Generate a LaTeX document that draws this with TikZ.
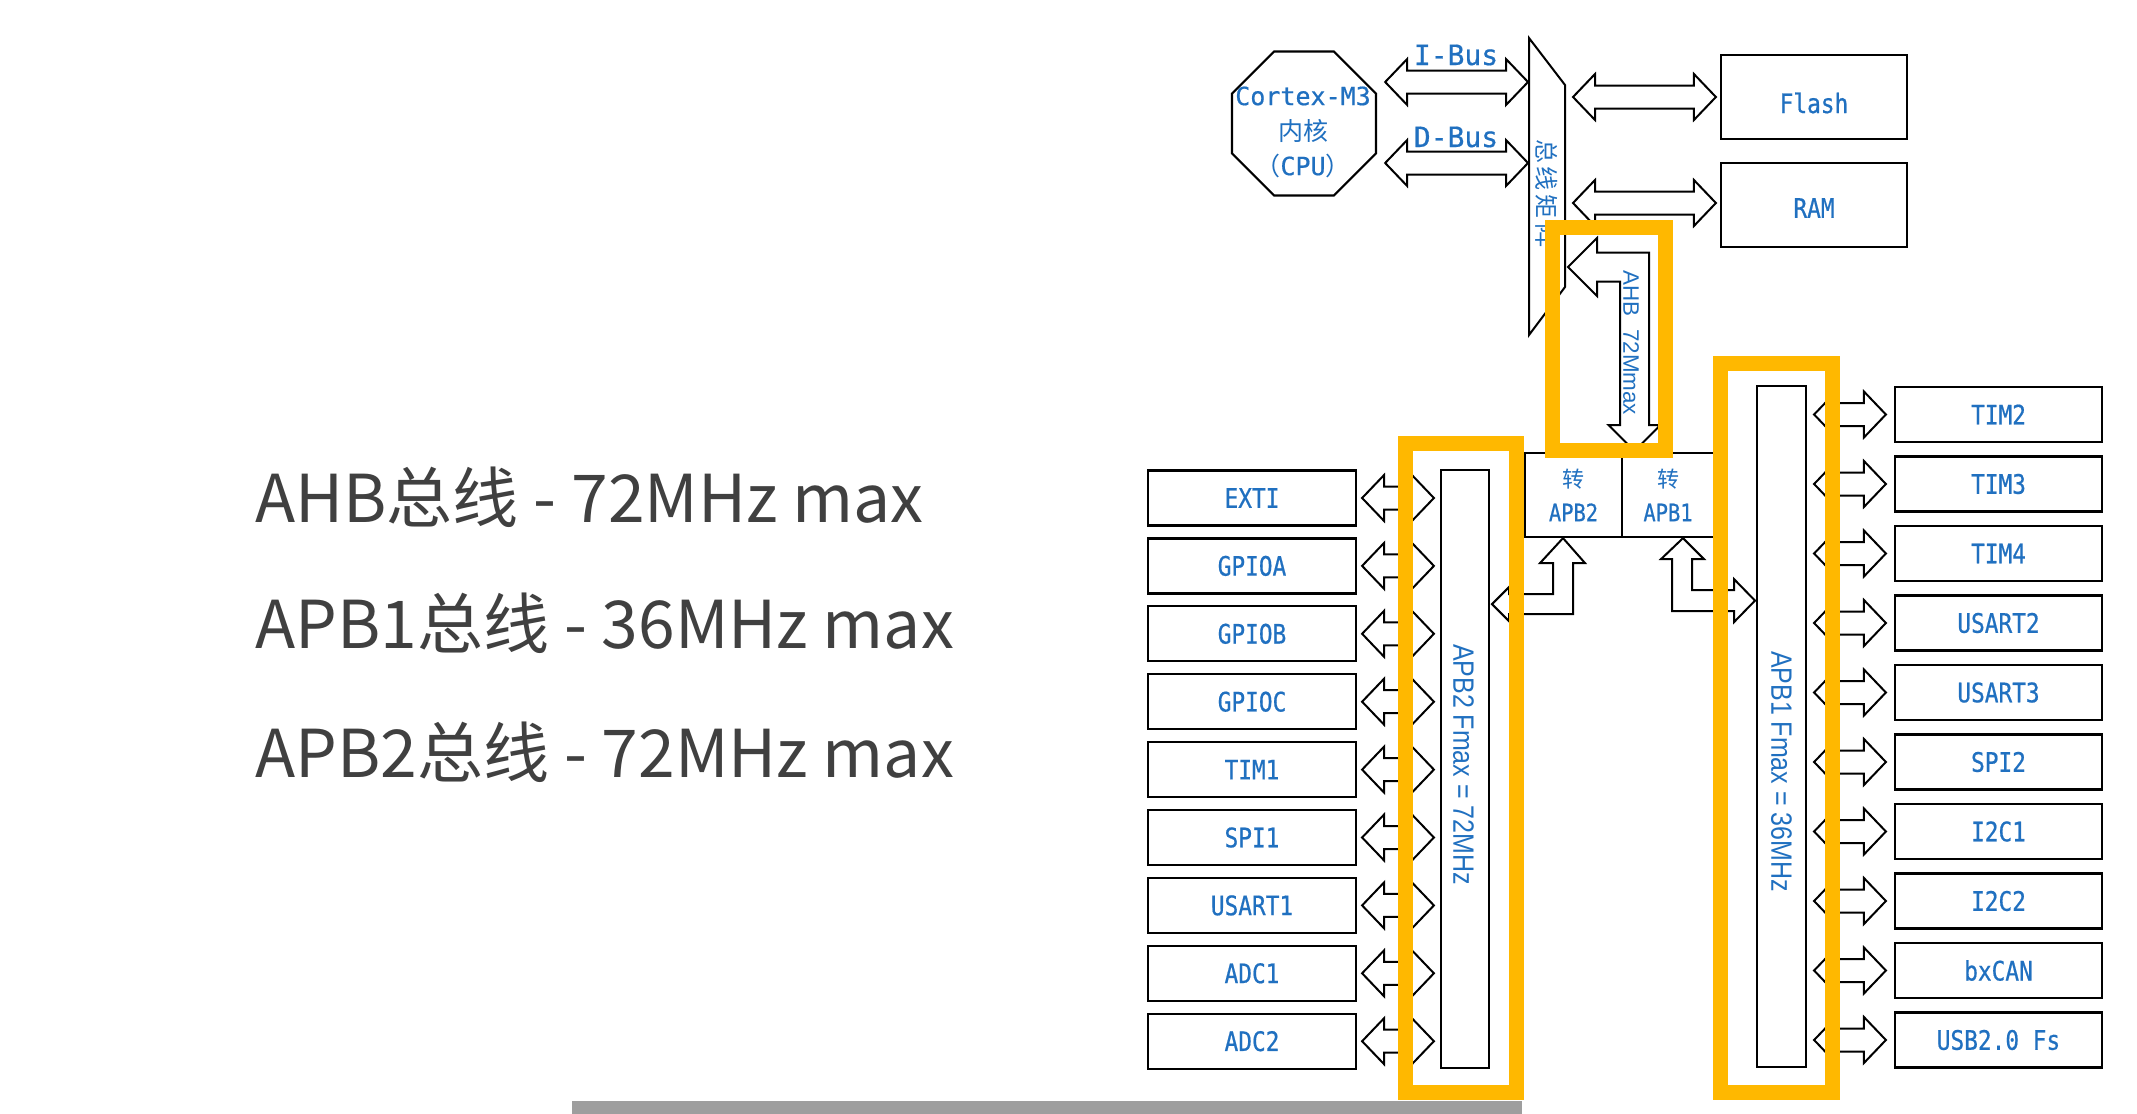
\documentclass[tikz,border=0pt]{standalone}
\usepackage{fontspec}
\usepackage{tikz}
\usetikzlibrary{shapes.geometric,calc}
\newfontfamily\cjk{Noto Sans CJK SC}
\newfontfamily\mono[FakeBold=0.6]{DejaVu Sans Mono}
\newfontfamily\lbl[FakeStretch=0.85,FakeBold=0.6]{DejaVu Sans Mono}
\newfontfamily\arial{Liberation Sans}
\newfontfamily\arialn[FakeStretch=0.85]{Liberation Sans}
\definecolor{busblue}{RGB}{32,112,192}
\definecolor{hilite}{RGB}{255,184,0}
\definecolor{slidegray}{RGB}{64,64,64}
\definecolor{scrollgray}{RGB}{158,158,158}
\tikzset{
  busline/.style={draw=black, line width=1pt, fill=white, line join=miter},
  perbox/.style={draw, line width=1.1pt, minimum width=104pt, minimum height=27.5pt,
    inner sep=0pt, text=busblue, font=\lbl\fontsize{13.4}{15}\selectfont},
  busbar/.style={draw, line width=1.1pt, inner sep=0pt},
  bluetext/.style={text=busblue, inner sep=0pt},
  hilitebox/.style={draw=hilite, line width=7.5pt},
  headline/.style={text=slidegray, anchor=base west, inner sep=0pt,
    font=\cjk\fontsize{33}{40}\selectfont}
}
\newcommand\hbus[2]{\draw[busline] let \p1=#1, \p2=#2 in
  (\x1,\y1) -- (\x1+11pt,\y1+11.5pt) -- (\x1+11pt,\y1+5.75pt) -- (\x2-11pt,\y1+5.75pt)
  -- (\x2-11pt,\y1+11.5pt) -- (\x2,\y1) -- (\x2-11pt,\y1-11.5pt) -- (\x2-11pt,\y1-5.75pt)
  -- (\x1+11pt,\y1-5.75pt) -- (\x1+11pt,\y1-11.5pt) -- cycle;}
\begin{document}
\begin{tikzpicture}[x=.5pt, y=-.5pt]
\fill[white] (0,0) rectangle (2137,1114);
\useasboundingbox (0,0) rectangle (2137,1114);

\node[headline] (ahbline) at (255,522) {AHB总线 - 72MHz max};
\node[headline] (apb1line) at (255,648) {APB1总线 - 36MHz max};
\node[headline] (apb2line) at (255,777) {APB2总线 - 72MHz max};

\node[regular polygon, regular polygon sides=8, draw, line width=1.1pt, minimum size=78pt,
  inner sep=0pt] (cpu) at (1304,123.5) {};
\node[bluetext, align=center, font=\mono\fontsize{12.5}{17.5}\selectfont] (cputxt)
  at (1303,132) {Cortex-M3\\{\cjk 内核}\\{\cjk （}CPU{\cjk ）}};

\draw[busline] (1529,38) -- (1565,85) -- (1565,287) -- (1529,335) -- cycle;
\coordinate (mtxL) at (1529,186);
\coordinate (mtxR) at (1565,186);
\node[bluetext, rotate=-90, font=\cjk\fontsize{12}{14}\selectfont] (mtxtxt) at (1547,193)
  {总\hspace{2pt}线\hspace{2pt}矩\hspace{2pt}阵};

\coordinate (ibus) at (1456,82);
\coordinate (dbus) at (1456,163);
\hbus{($(cpu.east |- ibus)+(8,0)$)}{($(mtxL |- ibus)+(-1,0)$)}
\hbus{($(cpu.east |- dbus)+(8,0)$)}{($(mtxL |- dbus)+(-1,0)$)}
\node[bluetext, font=\mono\fontsize{14}{16}\selectfont] (ibuslbl) at ($(ibus)+(0,-27)$) {I-Bus};
\node[bluetext, font=\mono\fontsize{14}{16}\selectfont] (dbuslbl) at ($(dbus)+(0,-26)$) {D-Bus};

\node[perbox, minimum width=93pt, minimum height=42pt] (flash) at (1814,97) {};
\node[perbox, minimum width=93pt, minimum height=42pt] (ram) at (1814,205) {};
\node[bluetext, font=\lbl\fontsize{13.4}{15}\selectfont] (flashtxt) at ($(flash)+(0,6)$) {Flash};
\node[bluetext, font=\lbl\fontsize{13.4}{15}\selectfont] (ramtxt) at ($(ram)+(0,3)$) {RAM};
\hbus{($(mtxR |- flash)+(8,0)$)}{($(flash.west)+(-4,0)$)}
\hbus{($(mtxR |- ram)+(8,-2)$)}{($(ram.west)+(-4,-2)$)}

\node[busbar, minimum width=48.5pt, minimum height=42pt, align=center, text=busblue,
  font=\lbl\fontsize{12}{17}\selectfont] (zapb2) at (1573.5,495) {{\cjk\fontsize{11}{17}\selectfont 转}\\APB2};
\node[busbar, minimum width=46pt, minimum height=42pt, align=center, text=busblue,
  font=\lbl\fontsize{12}{17}\selectfont] (zapb1) at (1668,495) {{\cjk\fontsize{11}{17}\selectfont 转}\\APB1};

\draw[busline] ($(mtxR)+(3,81)$) -- ++(29,-29) -- ++(0,14.5) -- ++(52,0) -- ++(0,172.5)
  -- ++(11.5,0) -- ++(-26,26) -- ++(-26,-26) -- ++(11.5,0) -- ++(0,-143.5) -- ++(-23,0)
  -- ++(0,14.5) -- cycle;
\node[bluetext, rotate=-90, font=\arial\fontsize{11.2}{13}\selectfont] (ahbtxt) at (1631,343) {AHB\ \ 72Mmax};

\node[busbar, minimum width=24pt, minimum height=299pt] (apb2) at (1465,769) {};
\node[busbar, minimum width=24.5pt, minimum height=340.5pt] (apb1) at (1781.5,726.5) {};
\node[bluetext, rotate=-90, font=\arialn\fontsize{14.7}{16}\selectfont] (apb2txt) at (1463.5,764.5) {APB2 Fmax = 72MHz};
\node[bluetext, rotate=-90, font=\arialn\fontsize{14.7}{16}\selectfont] (apb1txt) at (1781.5,771.5) {APB1 Fmax = 36MHz};

\foreach \name [count=\i from 0] in {EXTI,GPIOA,GPIOB,GPIOC,TIM1,SPI1,USART1,ADC1,ADC2}{
  \node[perbox] (apbb\i) at (1252,{498+67.9*\i}) {\name};
  \hbus{($(apbb\i.east)+(5,0)$)}{($(apbb\i.east -| apb2.west)+(-6,0)$)}
}
\foreach \name [count=\i from 0] in {TIM2,TIM3,TIM4,USART2,USART3,SPI2,I2C1,I2C2,bxCAN,USB2.0 Fs}{
  \node[perbox, minimum width=103.5pt] (apba\i) at (1998.5,{414.5+69.5*\i}) {\name};
  \hbus{($(apba\i.west -| apb1.east)+(7,0)$)}{($(apba\i.west)+(-8,0)$)}
}

\draw[busline] ($(zapb2.south)+(-10.5,0)$) -- ++(22,25) -- ++(-12,0) -- ++(0,51) -- ++(-64,0)
  -- ++(0,7) -- ++(-17,-17) -- ++(17,-17) -- ++(0,7) -- ++(44,0) -- ++(0,-31) -- ++(-13,0) -- cycle;
\draw[busline] ($(zapb1.south)+(15,0)$) -- ++(21,21) -- ++(-12,0) -- ++(0,31) -- ++(42,0)
  -- ++(0,-11) -- ++(21,21.5) -- ++(-21,21.5) -- ++(0,-11) -- ++(-62,0) -- ++(0,-52) -- ++(-11,0) -- cycle;

\draw[hilitebox] (1552.5,227.5) rectangle (1665,450);
\draw[hilitebox] (1405.5,443.5) rectangle (1516,1092.5);
\draw[hilitebox] (1720.5,363.5) rectangle (1832.5,1092.5);

\fill[scrollgray] (572,1101) rectangle (1522,1114);
\end{tikzpicture}
\end{document}
